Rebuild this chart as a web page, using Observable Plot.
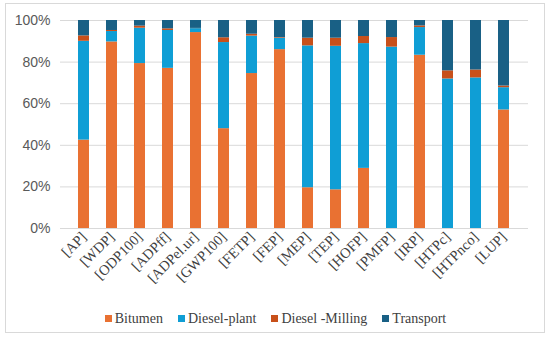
<!DOCTYPE html>
<html>
<head>
<meta charset="utf-8">
<script src="https://cdn.jsdelivr.net/npm/d3@7"></script>
<script src="https://cdn.jsdelivr.net/npm/@observablehq/plot@0.6"></script>
<style>
  html, body { margin: 0; padding: 0; background: #fff; }
  #wrap { position: relative; width: 550px; height: 337px; overflow: hidden; }
  #border { position: absolute; left: 5px; top: 3px; width: 540px; height: 330px; border: 1px solid #d9d9d9; box-sizing: border-box; pointer-events: none; }
  #legend { position: absolute; left: 8px; top: 302px; width: 550px; display: flex; justify-content: center; }
  #legend, #legend * { font-family: "Liberation Serif", "Times New Roman", serif !important; font-size: 14px !important; color: #404040 !important; }
  #legend span { margin-right: 15px !important; }
  #legend svg { margin-right: 3px !important; }
  #chart g[aria-label="x-axis tick label"] text { font-family: "Liberation Serif", "Times New Roman", serif !important; font-size: 14.5px !important; }
  #chart g[aria-label="y-axis tick label"] text { font-family: "Liberation Sans", Arial, sans-serif !important; font-size: 14px !important; }
</style>
</head>
<body>
<div id="wrap"><div id="chart"></div><div id="legend"></div><div id="border"></div></div>
<script>
const categories = ["[AP]", "[WDP]", "[ODP100]", "[ADPff]", "[ADPel.ur]", "[GWP100]", "[FETP]", "[FEP]", "[MEP]", "[TEP]", "[HOFP]", "[PMFP]", "[IRP]", "[HTPc]", "[HTPnco]", "[LUP]"];
const seriesNames = ["Bitumen", "Diesel-plant", "Diesel -Milling", "Transport"];
const bitumen      = [42.5, 89.7, 79.3, 77.0, 94.2, 48.0, 74.5, 86.0, 19.6, 18.6, 28.9, 0.0, 83.3, 0.0, 0.0, 57.0];
const dieselPlant  = [47.5, 5.0, 17.0, 18.2, 1.9, 41.4, 18.0, 5.5, 68.2, 69.0, 60.0, 87.2, 13.3, 71.9, 72.4, 10.7];
const dieselMill   = [2.6, 0.5, 1.0, 0.8, 0.1, 2.3, 0.9, 0.3, 3.7, 3.9, 3.4, 4.6, 0.8, 3.9, 3.8, 0.8];
const transport    = [7.4, 4.8, 2.7, 4.0, 3.8, 8.3, 6.6, 8.2, 8.5, 8.5, 7.7, 8.2, 2.6, 24.2, 23.8, 31.5];
const yTicks = [0, 20, 40, 60, 80, 100];
const colors = ["#E97132", "#0F9ED5", "#C8501A", "#196085"];

const seriesValues = [bitumen, dieselPlant, dieselMill, transport];
const data = [];
seriesNames.forEach((s, si) => {
  categories.forEach((c, ci) => data.push({category: c, series: s, value: seriesValues[si][ci]}));
});

const chart = Plot.plot({
  width: 550,
  height: 337,
  marginLeft: 60,
  marginRight: 22,
  marginTop: 20,
  marginBottom: 109,
  style: {fontFamily: "'Liberation Sans', Arial, sans-serif", background: "transparent"},
  x: {domain: categories, padding: 0.59, label: null, tickSize: 0, tickRotate: -45},
  y: {domain: [0, 100], ticks: yTicks, tickFormat: d => d + "%", label: null, tickSize: 0},
  color: {domain: seriesNames, range: colors},
  marks: [
    Plot.gridY(yTicks, {stroke: "#d9d9d9", strokeOpacity: 1, strokeWidth: 1}),
    Plot.barY(data, Plot.stackY({x: "category", y: "value", fill: "series", order: null})),
    Plot.axisY({ticks: yTicks, tickFormat: d => d + "%", tickSize: 0, tickPadding: 10, fontSize: 14, fill: "#595959", label: null}),
    Plot.axisX({tickSize: 0, tickRotate: -45, tickPadding: 6, fontSize: 14.5, fill: "#404040", label: null, fontFamily: "Liberation Serif"}),
    Plot.ruleY([0], {stroke: "#d9d9d9"})
  ]
});
document.getElementById("chart").appendChild(chart);

const legend = Plot.legend({
  color: {domain: seriesNames, range: colors},
  swatchSize: 7
});
document.getElementById("legend").appendChild(legend);
</script>
</body>
</html>
